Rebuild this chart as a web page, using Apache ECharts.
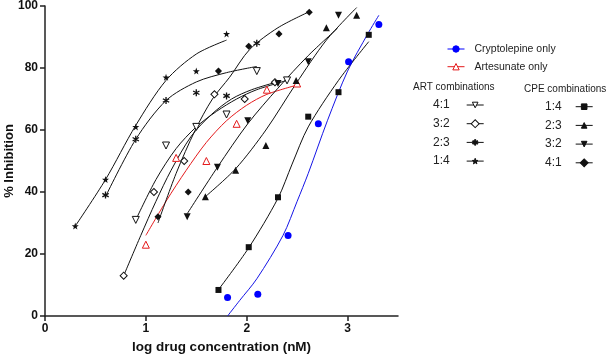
<!DOCTYPE html>
<html>
<head>
<meta charset="utf-8">
<script src="https://cdn.jsdelivr.net/npm/echarts@6/dist/echarts.min.js"></script>
<style>
html, body { margin: 0; padding: 0; background: #fff; }
#chart { width: 614px; height: 356px; }
</style>
</head>
<body>
<div id="chart"></div>
<script>
// x = log drug concentration (nM), y = % inhibition
var cpeX = [1.81, 2.11, 2.41, 2.71, 3.01, 3.31];
var cpeY = [6, 7, 26, 62, 82, 94];
var cpeFitX = [1.81, 1.93, 2.1, 2.36, 2.5, 2.61, 2.8, 3.0, 3.2, 3.31];
var cpeFitY = [0, 5, 12, 26, 37, 46, 63, 79, 91, 97];

var artX = [1.0, 1.3, 1.6, 1.9, 2.2, 2.5];
var artY = [23, 51, 50, 62, 73, 75];
var artFitX = [1.0, 1.2, 1.4, 1.6, 1.8, 2.0, 2.2, 2.5];
var artFitY = [26, 37, 47, 56, 63, 68, 71.5, 74.5];

// ART combinations
var art41X = [0.9, 1.2, 1.5, 1.8, 2.1, 2.4];
var art41Y = [31, 55, 61, 65, 79, 76];
var art41FitX = [0.9, 1.1, 1.3, 1.5, 1.7, 1.9, 2.1, 2.4];
var art41FitY = [31, 44, 54, 61, 66, 70, 73, 76];

var art32X = [0.78, 1.08, 1.38, 1.68, 1.98, 2.28];
var art32Y = [13, 40, 50, 71.5, 70, 75.4];
var art32FitX = [0.78, 0.95, 1.1, 1.25, 1.45, 1.65, 1.85, 2.05, 2.28];
var art32FitY = [13, 26, 37, 47, 58, 65, 70, 73, 75.3];

var art23X = [0.6, 0.9, 1.2, 1.5, 1.8, 2.1];
var art23Y = [39, 57, 69.5, 72, 71, 88];
var art23FitX = [0.6, 0.9, 1.2, 1.5, 1.8, 2.1];
var art23FitY = [38.5, 57, 69.5, 75.5, 78.5, 80.5];

var art14X = [0.3, 0.6, 0.9, 1.2, 1.5, 1.8];
var art14Y = [29, 44, 61, 77, 79, 91];
var art14FitX = [0.3, 0.6, 0.9, 1.2, 1.5, 1.8];
var art14FitY = [29, 44, 61.5, 76, 84.5, 89];

// CPE combinations
var cpe14X = [1.72, 2.02, 2.31, 2.61, 2.91, 3.21];
var cpe14Y = [8.4, 22.2, 38.3, 64.3, 72.2, 90.7];
var cpe14FitX = [1.72, 2.02, 2.31, 2.45, 2.61, 2.91, 3.21];
var cpe14FitY = [8.5, 22, 38, 49, 61, 76, 88.5];

var cpe23X = [1.59, 1.89, 2.19, 2.49, 2.79, 3.09];
var cpe23Y = [38.5, 47, 55, 76, 93, 97];
var cpe23FitX = [1.59, 1.89, 2.19, 2.49, 2.79, 3.09];
var cpe23FitY = [38.5, 47.5, 60, 75, 89, 99.5];

var cpe32X = [1.41, 1.71, 2.01, 2.31, 2.61, 2.91];
var cpe32Y = [32, 48, 63, 75, 82, 97];
var cpe32FitX = [1.41, 1.71, 2.01, 2.31, 2.61, 2.9];
var cpe32FitY = [33, 48, 62, 73.5, 84, 92.8];

var cpe41X = [1.12, 1.42, 1.72, 2.02, 2.32, 2.62];
var cpe41Y = [32, 40, 79, 87, 91, 98];
var cpe41FitX = [1.12, 1.3, 1.49, 1.66, 1.83, 2.03, 2.31, 2.61];
var cpe41FitY = [30, 46, 60, 70, 77, 86, 93, 98];

var xTicks = [0, 1, 2, 3];

var FONT = '"Liberation Sans", Arial, sans-serif';
var starPath = 'path://M0,-5L1.18,-1.62L4.76,-1.55L1.9,0.62L2.94,4.05L0,2L-2.94,4.05L-1.9,0.62L-4.76,-1.55L-1.18,-1.62Z';
var asteriskPath = 'path://M-0.9,-5L0.9,-5L0.9,5L-0.9,5Z' +
  'M4.78,1.72L3.88,3.28L-4.78,-1.72L-3.88,-3.28Z' +
  'M-4.78,1.72L3.88,-3.28L4.78,-1.72L-3.88,3.28Z';

function pts (xs, ys) {
  return xs.map(function (x, i) { return [x, ys[i]]; });
}

// markers only (line hidden, but the legend draws it)
function markers (name, xs, ys, color, symbol, size, rotate, open) {
  return {
    name: name,
    type: 'line',
    data: pts(xs, ys),
    symbol: symbol,
    symbolSize: size,
    symbolRotate: rotate || 0,
    showSymbol: true,
    showAllSymbol: true,
    z: 5,
    itemStyle: open
      ? { color: '#fff', borderColor: color, borderWidth: 1 }
      : { color: color, borderColor: color, borderWidth: 0 },
    lineStyle: { color: color, width: 0 },
    emphasis: { disabled: true }
  };
}

function fit (name, xs, ys, color) {
  return {
    name: name + ' fit',
    type: 'line',
    data: pts(xs, ys),
    smooth: 0.3,
    showSymbol: false,
    symbol: 'none',
    z: 3,
    lineStyle: { color: color, width: 1 },
    emphasis: { disabled: true }
  };
}

var BLUE = '#1414e6';
var RED = '#e41a1c';
var BLACK = '#111';

var series = [
  fit('Cryptolepine only', cpeFitX, cpeFitY, BLUE),
  fit('Artesunate only', artFitX, artFitY, RED),
  fit('ART 4:1', art41FitX, art41FitY, BLACK),
  fit('ART 3:2', art32FitX, art32FitY, BLACK),
  fit('ART 2:3', art23FitX, art23FitY, BLACK),
  fit('ART 1:4', art14FitX, art14FitY, BLACK),
  fit('CPE 1:4', cpe14FitX, cpe14FitY, BLACK),
  fit('CPE 2:3', cpe23FitX, cpe23FitY, BLACK),
  fit('CPE 3:2', cpe32FitX, cpe32FitY, BLACK),
  fit('CPE 4:1', cpe41FitX, cpe41FitY, BLACK),
  markers('Cryptolepine only', cpeX, cpeY, '#0000ff', 'circle', 7),
  markers('Artesunate only', artX, artY, RED, 'triangle', 7, 0, true),
  markers('ART 4:1', art41X, art41Y, BLACK, 'triangle', 7, 180, true),
  markers('ART 3:2', art32X, art32Y, BLACK, 'rect', 5, 45, true),
  markers('ART 2:3', art23X, art23Y, BLACK, asteriskPath, 7),
  markers('ART 1:4', art14X, art14Y, BLACK, starPath, 7),
  markers('CPE 1:4', cpe14X, cpe14Y, BLACK, 'rect', 6),
  markers('CPE 2:3', cpe23X, cpe23Y, BLACK, 'triangle', 7),
  markers('CPE 3:2', cpe32X, cpe32Y, BLACK, 'triangle', 7, 180),
  markers('CPE 4:1', cpe41X, cpe41Y, BLACK, 'rect', 5, 45)
];

var chart = echarts.init(document.getElementById('chart'), null, { renderer: 'canvas' });

var legendBase = {
  orient: 'vertical',
  itemWidth: 17,
  itemHeight: 7,
  itemGap: 4.7,
  selectedMode: false,
  lineStyle: { width: 1 },
  itemStyle: { borderWidth: 1 }
};

var option = {
  animation: false,
  backgroundColor: '#fff',
  textStyle: { fontFamily: FONT },
  grid: { left: 45, right: 216, top: 6, bottom: 40, outerBoundsMode: 'none', containLabel: false },
  xAxis: {
    type: 'value',
    min: 0,
    max: 3.5,
    interval: 1,
    name: 'log drug concentration (nM)',
    nameLocation: 'middle',
    nameGap: 24,
    nameMoveOverlap: false,
    nameTextStyle: { fontFamily: FONT, fontWeight: 'bold', fontSize: 13.5, color: '#111' },
    axisLine: { show: true, onZero: false, lineStyle: { color: '#222', width: 1.5 } },
    axisTick: { show: true, length: 5, customValues: xTicks, lineStyle: { color: '#222', width: 1.5 } },
    axisLabel: { customValues: xTicks, fontFamily: FONT, fontWeight: 'bold', fontSize: 12, color: '#111', margin: 7 },
    splitLine: { show: false }
  },
  yAxis: {
    type: 'value',
    min: 0,
    max: 100,
    interval: 20,
    name: '% Inhibition',
    nameLocation: 'middle',
    nameGap: 29,
    nameMoveOverlap: false,
    nameTextStyle: { fontFamily: FONT, fontWeight: 'bold', fontSize: 13, color: '#111' },
    axisLine: { show: true, lineStyle: { color: '#222', width: 1.5 } },
    axisTick: { show: true, length: 5, lineStyle: { color: '#222', width: 1.5 } },
    axisLabel: { fontFamily: FONT, fontWeight: 'bold', fontSize: 12, color: '#111', margin: 7 },
    splitLine: { show: false }
  },
  legend: [
    Object.assign({}, legendBase, {
      data: ['Cryptolepine only', 'Artesunate only'],
      left: 442,
      top: 37.5,
      itemHeight: 8,
      textStyle: { fontFamily: FONT, fontSize: 10.5, color: '#222', lineHeight: 13, padding: [0, 0, 0, 5] }
    }),
    Object.assign({}, legendBase, {
      data: ['ART 4:1', 'ART 3:2', 'ART 2:3', 'ART 1:4'],
      align: 'right',
      left: 428,
      top: 93,
      formatter: function (n) { return n.slice(4); },
      textStyle: { fontFamily: FONT, fontSize: 12, color: '#222', lineHeight: 14, padding: [0, 12, 0, 0] }
    }),
    Object.assign({}, legendBase, {
      data: ['CPE 1:4', 'CPE 2:3', 'CPE 3:2', 'CPE 4:1'],
      align: 'right',
      left: 540,
      top: 94.7,
      formatter: function (n) { return n.slice(4); },
      textStyle: { fontFamily: FONT, fontSize: 12, color: '#222', lineHeight: 14, padding: [0, 9, 0, 0] }
    })
  ],
  graphic: [
    {
      type: 'text', left: 413, top: 82,
      style: { text: 'ART combinations', font: '10px "Liberation Sans", Arial, sans-serif', fill: '#222' }
    },
    {
      type: 'text', left: 524, top: 84,
      style: { text: 'CPE combinations', font: '10px "Liberation Sans", Arial, sans-serif', fill: '#222' }
    }
  ],
  series: series
};

chart.setOption(option);
</script>
</body>
</html>
